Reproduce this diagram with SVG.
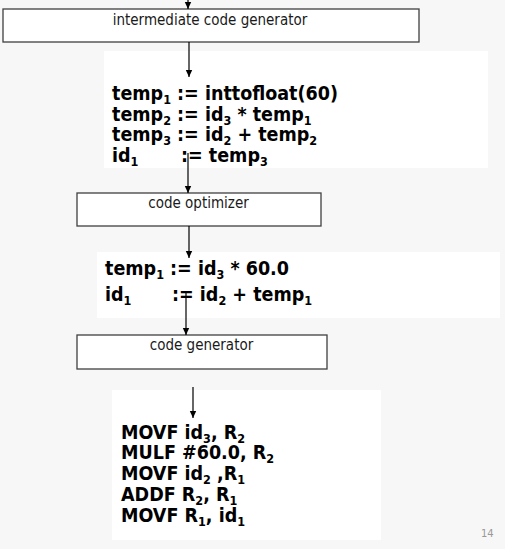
<svg xmlns="http://www.w3.org/2000/svg" width="505" height="549" viewBox="0 0 505 549">
<defs>
<style>
.bg{fill:#f7f7f7}
.panel{fill:#ffffff}
.box{fill:#ffffff;stroke:#404040;stroke-width:1.3}
.lbl{font-family:"DejaVu Sans Condensed","DejaVu Sans",sans-serif;font-size:15px;fill:#1a1a1a;text-anchor:middle}
.code{font-family:"DejaVu Sans Condensed","DejaVu Sans",sans-serif;font-weight:bold;font-size:19.5px;fill:#000}
.sub{font-size:12.5px}
.conn{stroke:#000;stroke-width:1.2;fill:none;marker-end:url(#ah)}
.pg{font-family:"DejaVu Sans",sans-serif;font-size:10px;fill:#999}
</style>
<marker id="ah" markerUnits="userSpaceOnUse" markerWidth="8" markerHeight="8" viewBox="0 0 8 8" refX="7" refY="4" orient="auto">
<path d="M0,0.8 L7,4 L0,7.2 z" fill="#000"/>
</marker>
</defs>
<rect class="bg" x="0" y="0" width="505" height="549"/>
<rect class="panel" x="104" y="51" width="384" height="117"/>
<rect class="panel" x="97" y="252" width="403" height="66"/>
<rect class="panel" x="112" y="390" width="269" height="150"/>

<g id="node-icg">
<rect class="box" x="3" y="9" width="416" height="33"/>
<text class="lbl" x="210" y="25">intermediate code generator</text>
</g>
<g id="node-ir">
<text class="code" x="112" y="100">temp<tspan class="sub" dy="4">1</tspan><tspan dy="-4"> := inttofloat(60)</tspan></text>
<text class="code" x="112" y="120.7">temp<tspan class="sub" dy="4">2</tspan><tspan dy="-4"> := id</tspan><tspan class="sub" dy="4">3</tspan><tspan dy="-4"> * temp</tspan><tspan class="sub" dy="4">1</tspan></text>
<text class="code" x="112" y="141.4">temp<tspan class="sub" dy="4">3</tspan><tspan dy="-4"> := id</tspan><tspan class="sub" dy="4">2</tspan><tspan dy="-4"> + temp</tspan><tspan class="sub" dy="4">2</tspan></text>
<text class="code" x="112" y="162">id<tspan class="sub" dy="4">1</tspan></text>
<text class="code" x="181" y="162">:= temp<tspan class="sub" dy="4">3</tspan></text>
</g>
<g id="node-opt">
<rect class="box" x="77" y="193" width="244" height="33"/>
<text class="lbl" x="198.5" y="208">code optimizer</text>
</g>
<g id="node-opt-out">
<text class="code" x="105" y="275">temp<tspan class="sub" dy="4">1</tspan><tspan dy="-4"> := id</tspan><tspan class="sub" dy="4">3</tspan><tspan dy="-4"> * 60.0</tspan></text>
<text class="code" x="105" y="301">id<tspan class="sub" dy="4">1</tspan></text>
<text class="code" x="172" y="301">:= id<tspan class="sub" dy="4">2</tspan><tspan dy="-4"> + temp</tspan><tspan class="sub" dy="4">1</tspan></text>
</g>
<g id="node-cg">
<rect class="box" x="77" y="335" width="250" height="34"/>
<text class="lbl" x="201.5" y="350">code generator</text>
</g>
<g id="node-target">
<text class="code" x="121" y="438.5">MOVF id<tspan class="sub" dy="4">3</tspan><tspan dy="-4">, R</tspan><tspan class="sub" dy="4">2</tspan></text>
<text class="code" x="121" y="459.3">MULF #60.0, R<tspan class="sub" dy="4">2</tspan></text>
<text class="code" x="121" y="480.1">MOVF id<tspan class="sub" dy="4">2</tspan><tspan dy="-4"> ,R</tspan><tspan class="sub" dy="4">1</tspan></text>
<text class="code" x="121" y="500.9">ADDF R<tspan class="sub" dy="4">2</tspan><tspan dy="-4">, R</tspan><tspan class="sub" dy="4">1</tspan></text>
<text class="code" x="121" y="521.7">MOVF R<tspan class="sub" dy="4">1</tspan><tspan dy="-4">, id</tspan><tspan class="sub" dy="4">1</tspan></text>
</g>
<g id="connectors">
<line class="conn" x1="188" y1="0" x2="188" y2="9"/>
<line class="conn" x1="189" y1="42" x2="189" y2="77"/>
<line class="conn" x1="188" y1="153" x2="188" y2="193"/>
<line class="conn" x1="189" y1="226" x2="189" y2="258"/>
<line class="conn" x1="186" y1="293" x2="186" y2="335"/>
<line class="conn" x1="193" y1="387" x2="193" y2="418"/>
</g>
<text class="pg" x="481" y="537">14</text>
</svg>
